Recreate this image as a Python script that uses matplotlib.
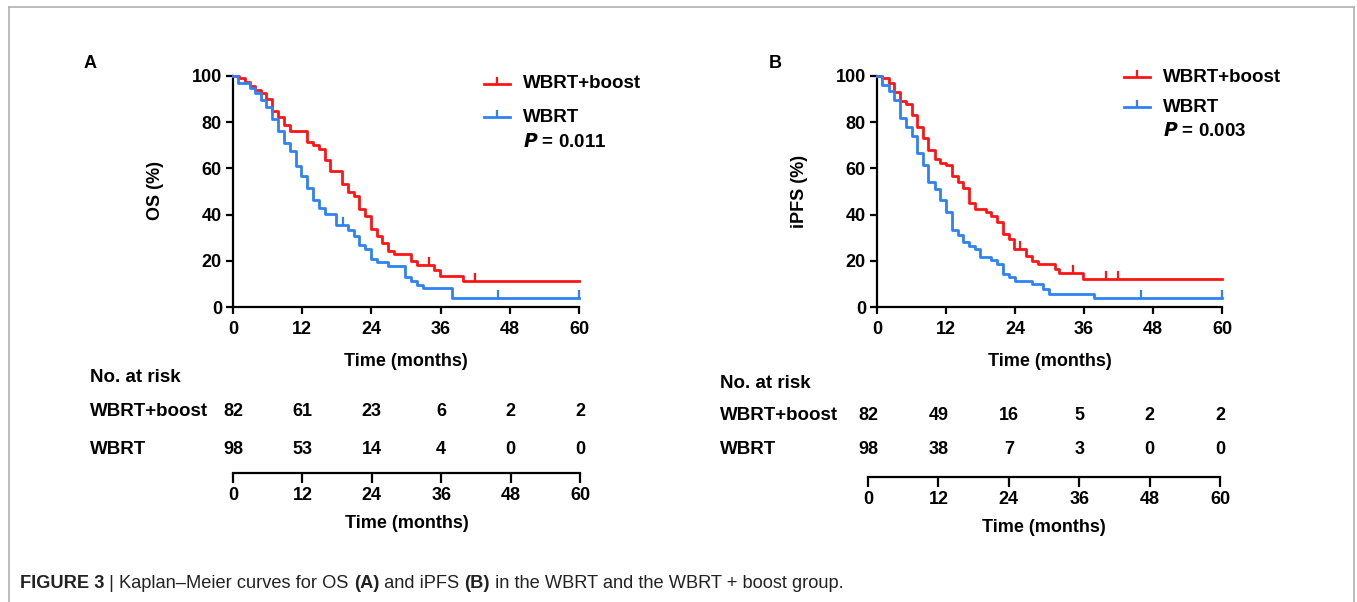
import numpy as np
import matplotlib
matplotlib.use("Agg")
import matplotlib.pyplot as plt
from matplotlib.lines import Line2D
from matplotlib import transforms

plt.rcParams['font.family'] = ['Liberation Sans', 'DejaVu Sans']
plt.rcParams['font.weight'] = 'bold'

W, H = 1357, 602
RED = '#ff1414'
BLUE = '#2e82f2'

# ---- data ----
months = [0, 12, 24, 36, 48, 60]

os_boost_t = [0, 1.0, 2.0, 2.9, 3.9, 4.8, 5.8, 6.8, 7.8, 8.9, 9.9, 12.9, 13.9, 14.9, 15.9, 16.9,
              18.9, 19.9, 20.9, 21.9, 22.9, 23.9, 24.9, 25.9, 26.9, 27.9, 30.9, 31.9, 34.9, 35.9, 39.9]
os_boost_s = [100, 99, 97.5, 95.5, 93.8, 92.5, 90, 85, 82.4, 78.8, 76.2, 71.6, 70.2, 68.5, 63.8, 58.7,
              53.4, 49.6, 48.1, 42.4, 39.5, 33.7, 30.9, 27.8, 24.4, 22.9, 19.9, 18.0, 16.0, 13.4, 11.3]
os_boost_cens = [34, 42]

os_wbrt_t = [0, 0.9, 2.9, 3.9, 4.8, 5.8, 6.8, 7.8, 8.9, 9.9, 10.9, 11.8, 12.9, 13.9, 14.9, 15.9,
             17.9, 19.9, 20.9, 21.9, 22.9, 23.9, 24.9, 26.9, 29.9, 30.9, 31.9, 32.9, 37.9]
os_wbrt_s = [100, 96.9, 94.8, 92.7, 89.6, 86.5, 81.3, 76.1, 70.9, 67.7, 60.9, 56.7, 51.5, 46.3, 42.9, 40.4,
             35.7, 33.2, 30.8, 27.0, 25.1, 20.8, 19.5, 17.9, 13.0, 11.1, 9.7, 8.1, 4.0]
os_wbrt_cens = [19, 46, 60]

pfs_boost_t = [0, 0.9, 2, 3, 4, 5.1, 6.1, 6.9, 8, 8.9, 10, 11, 12, 13, 14, 15, 16, 17, 19, 19.9,
               20.8, 21.9, 23, 23.8, 25.9, 26.9, 28, 30.9, 31.7, 35.9]
pfs_boost_s = [100, 99, 97, 93, 89, 88, 83, 78, 73, 68, 64, 62.5, 61.5, 56.5, 54, 51.5, 45, 42.5, 41, 39.5,
               37, 31.5, 29.5, 25, 22, 19.8, 18.5, 16.5, 14.8, 12.2]
pfs_boost_cens = [24.8, 34, 39.9, 41.9]

pfs_wbrt_t = [0, 0.9, 2, 3, 4, 5.1, 6.1, 6.9, 8, 8.9, 10, 11, 12, 13, 14, 15, 16, 17, 17.9, 19.9,
              20.9, 21.9, 23, 24, 26.9, 28.8, 29.9, 37.8]
pfs_wbrt_s = [100, 96, 93.5, 89.5, 82, 78, 74, 66.5, 61.5, 54, 51, 46.5, 41, 33.5, 31, 28, 26.5, 25, 21.5, 20.2,
              18.8, 14.5, 12.8, 11.2, 9.8, 8, 5.8, 4]
pfs_wbrt_cens = [45.9, 60]

risk_a_boost = [82, 61, 23, 6, 2, 2]
risk_a_wbrt = [98, 53, 14, 4, 0, 0]
risk_b_boost = [82, 49, 16, 5, 2, 2]
risk_b_wbrt = [98, 38, 7, 3, 0, 0]

fig = plt.figure(figsize=(W / 100, H / 100), dpi=100)


def fx(x):
    return x / W


def fy(y):
    return 1 - y / H


def ftext(x, y, s, **kw):
    kw.setdefault('fontsize', 13)
    kw.setdefault('va', 'center')
    kw.setdefault('fontweight', 'bold')
    return fig.text(fx(x), fy(y), s, **kw)


def step_at(t, s, x):
    i = np.searchsorted(t, x, side='right') - 1
    return s[i]


def km(ax, t, s, cens, color):
    t = list(t) + [60]
    s = list(s) + [s[-1]]
    ax.step(t, s, where='post', color=color, lw=2.0, clip_on=False, zorder=3)
    for c in cens:
        v = step_at(np.array(t), np.array(s), c)
        ax.plot([c, c], [v, v + 3], color=color, lw=1.6, clip_on=False, zorder=3)


def panel(x0, x1, curves, ylabel, ylab_x, letter, letter_x, leg_x, leg_y, leg_dy, p_dy, pval,
          rx0, rx1, risk_rows, risk_y, ry_axis, lab_x):
    ax = fig.add_axes([fx(x0), fy(307), fx(x1) - fx(x0), fy(76) - fy(307)])
    for t, s, c, col in curves:
        km(ax, t, s, c, col)
    ax.set_xlim(0, 60)
    ax.set_ylim(0, 100)
    ax.set_xticks(months)
    ax.set_yticks(range(0, 101, 20))
    for sp in ['top', 'right']:
        ax.spines[sp].set_visible(False)
    for sp in ['left', 'bottom']:
        ax.spines[sp].set_linewidth(1.6)
    ax.tick_params(width=1.6, length=5, labelsize=13, pad=3)
    ax.tick_params(axis='x', pad=5)
    ax.set_xlabel('Time (months)', fontsize=13, fontweight='bold', labelpad=11)
    ftext(ylab_x, 191, ylabel, rotation=90, ha='center')
    ftext(letter_x, 63, letter, ha='center')

    # legend
    for k, (lab, col) in enumerate([('WBRT+boost', RED), ('WBRT', BLUE)]):
        yy = leg_y + k * leg_dy
        fig.add_artist(Line2D([fx(leg_x - 39), fx(leg_x - 13)], [fy(yy), fy(yy)],
                              color=col, lw=2.0))
        fig.add_artist(Line2D([fx(leg_x - 26), fx(leg_x - 26)], [fy(yy), fy(yy - 6)],
                              color=col, lw=1.6))
        ftext(leg_x, yy, lab, fontsize=13.5)
    ftext(leg_x, leg_y + p_dy, r'$\bf{\it{P}}$' + ' = ' + pval, fontsize=13.5)

    # risk table
    rax = fig.add_axes([fx(rx0), fy(ry_axis), fx(rx1) - fx(rx0), 0.05])
    rax.set_xlim(0, 60)
    rax.set_ylim(0, 1)
    rax.set_xticks(months)
    rax.set_yticks([])
    for sp in ['top', 'right', 'left']:
        rax.spines[sp].set_visible(False)
    rax.spines['bottom'].set_linewidth(1.6)
    rax.tick_params(width=1.6, length=7, labelsize=13, pad=3)
    rax.set_xlabel('Time (months)', fontsize=13, fontweight='bold', labelpad=8)
    rax.patch.set_alpha(0)
    bt = transforms.blended_transform_factory(rax.transData, fig.transFigure)
    ftext(lab_x, risk_y[0], 'No. at risk', fontsize=13.5)
    for (lab, vals), yy in zip(risk_rows, risk_y[1:]):
        ftext(lab_x, yy, lab, fontsize=13.5)
        for m, v in zip(months, vals):
            rax.text(m, fy(yy), str(v), transform=bt, ha='center', va='center',
                     fontsize=13, fontweight='bold')
    return ax


panel(233, 579, [(os_boost_t, os_boost_s, os_boost_cens, RED),
                 (os_wbrt_t, os_wbrt_s, os_wbrt_cens, BLUE)],
      'OS (%)', 155, 'A', 90, 523, 84, 33, 58, '0.011',
      233, 580, [('WBRT+boost', risk_a_boost), ('WBRT', risk_a_wbrt)], [378, 412, 449], 473, 90)

panel(877, 1222, [(pfs_boost_t, pfs_boost_s, pfs_boost_cens, RED),
                  (pfs_wbrt_t, pfs_wbrt_s, pfs_wbrt_cens, BLUE)],
      'iPFS (%)', 800, 'B', 775, 1163, 77, 30, 54, '0.003',
      868, 1220, [('WBRT+boost', risk_b_boost), ('WBRT', risk_b_wbrt)], [383, 415, 450], 477, 720)

# frame
fc = '#b0b0b0'
fig.add_artist(Line2D([fx(9), fx(9)], [fy(7), 0], color=fc, lw=1.2))
fig.add_artist(Line2D([fx(1354), fx(1354)], [fy(7), 0], color=fc, lw=1.2))
fig.add_artist(Line2D([fx(9), fx(1354)], [fy(7), fy(7)], color=fc, lw=1.2))

# caption, sized so that it spans the same width as in the reference
pieces = [('FIGURE 3', 'bold'), (' | Kaplan\u2013Meier curves for OS ', 'normal'), ('(A)', 'bold'),
          (' and iPFS ', 'normal'), ('(B)', 'bold'), (' in the WBRT and the WBRT + boost group.', 'normal')]
renderer = fig.canvas.get_renderer()
base = 10
total = 0
for s, w in pieces:
    t = ftext(0, 583, s, fontsize=base, fontweight=w)
    total += t.get_window_extent(renderer).width
    t.remove()
size = base * 823 / total
x = 20
for s, w in pieces:
    t = ftext(x, 583, s, fontsize=size, fontweight=w, color='#222222')
    x += t.get_window_extent(renderer).width

fig.savefig('out.png', dpi=100)
